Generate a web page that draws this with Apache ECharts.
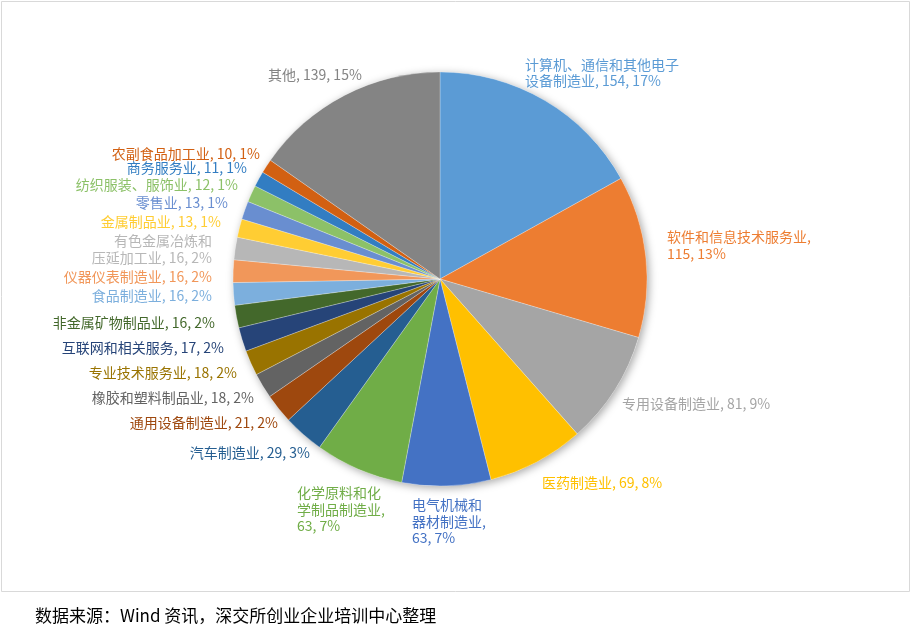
<!DOCTYPE html>
<html>
<head>
<meta charset="utf-8">
<script src="https://cdn.jsdelivr.net/npm/echarts@6/dist/echarts.min.js"></script>
<style>
html,body{margin:0;padding:0;background:#fff;}
#chart{width:912px;height:630px;}
</style>
</head>
<body>
<div id="chart"></div>
<script>
// ---- data ----
const categories = [
  '计算机、通信和其他电子设备制造业', '软件和信息技术服务业', '专用设备制造业', '医药制造业',
  '电气机械和器材制造业', '化学原料和化学制品制造业', '汽车制造业', '通用设备制造业',
  '橡胶和塑料制品业', '专业技术服务业', '互联网和相关服务', '非金属矿物制品业',
  '食品制造业', '仪器仪表制造业', '有色金属冶炼和压延加工业', '金属制品业',
  '零售业', '纺织服装、服饰业', '商务服务业', '农副食品加工业', '其他'
];
const values = [154, 115, 81, 69, 63, 63, 29, 21, 18, 18, 17, 16, 16, 16, 16, 13, 13, 12, 11, 10, 139];
const sourceNote = '数据来源：Wind 资讯，深交所创业企业培训中心整理';

// ---- styles ----
const colors = [
  '#5B9BD5', '#ED7D31', '#A5A5A5', '#FFC000', '#4472C4', '#70AD47', '#255E91', '#9E480E',
  '#636363', '#997300', '#264478', '#43682B', '#7CAFDD', '#F1975A', '#B7B7B7', '#FFCD33',
  '#698ED0', '#8CC168', '#327DC2', '#D26012', '#848484'
];
// line-break positions inside the label text
const labelBreaks = {0: [11], 1: [11], 4: [5, 11], 5: [6, 13], 14: [7]};
// label anchor placement [x, y, align]
const labelPlace = [
  [525, 72.5, 'left'], [667, 245, 'left'], [622, 404, 'left'], [542, 483, 'left'],
  [412, 521.5, 'left'], [297, 509.5, 'left'], [310, 453, 'right'], [278, 423, 'right'],
  [254, 398, 'right'], [237, 372.5, 'right'], [224, 347.5, 'right'], [215, 322.5, 'right'],
  [212, 296, 'right'], [212, 277, 'right'], [212, 249, 'right'], [221, 222, 'right'],
  [228, 203, 'right'], [238, 184.5, 'right'], [247, 168, 'right'], [260, 154, 'right'],
  [268, 75, 'left']
];

const total = values.reduce((a, b) => a + b, 0);
function labelText(i) {
  const full = categories[i] + ', ' + values[i] + ', ' + Math.round(values[i] / total * 100) + '%';
  const br = labelBreaks[i];
  if (!br) return full;
  const lines = [];
  let prev = 0;
  br.forEach(p => { lines.push(full.slice(prev, p).trim()); prev = p; });
  lines.push(full.slice(prev).trim());
  return lines.join('\n');
}

const chart = echarts.init(document.getElementById('chart'), null, {renderer: 'canvas'});
const FONT = '"Noto Sans CJK SC", "Microsoft YaHei", sans-serif';
chart.setOption({
  animation: false,
  backgroundColor: '#fff',
  textStyle: {fontFamily: FONT},
  graphic: [
    {type: 'rect', shape: {x: 1.5, y: 1.5, width: 908, height: 590},
     style: {fill: 'none', stroke: '#d9d9d9', lineWidth: 1}, silent: true, z: -10},
    {type: 'text', left: 35, top: 607,
     style: {text: sourceNote, fontSize: 17, fill: '#000', fontFamily: FONT}}
  ],
  series: [
    {
      type: 'pie', silent: true, center: [440, 279], radius: 207, z: 1,
      label: {show: false}, labelLine: {show: false},
      itemStyle: {color: '#ffffff', shadowBlur: 9, shadowOffsetX: 2, shadowOffsetY: 2, shadowColor: 'rgba(0,0,0,0.35)'},
      data: [{value: 1, name: 'bg'}]
    },
    {
      type: 'pie', center: [440, 279], radius: 207, startAngle: 90, clockwise: true, z: 2,
      avoidLabelOverlap: false,
      itemStyle: {borderColor: 'rgba(255,255,255,0.5)', borderWidth: 0.5},
      label: {
        show: true, position: 'outside', fontSize: 14, lineHeight: 16.5, fontFamily: FONT,
        formatter: p => labelText(p.dataIndex)
      },
      labelLine: {show: false},
      labelLayout: p => {
        const lp = labelPlace[p.dataIndex];
        return {x: lp[0], y: lp[1], align: lp[2], verticalAlign: 'middle'};
      },
      data: categories.map((c, i) => ({
        name: c, value: values[i],
        itemStyle: {color: colors[i]},
        label: {color: colors[i]}
      }))
    }
  ]
});
</script>
</body>
</html>
